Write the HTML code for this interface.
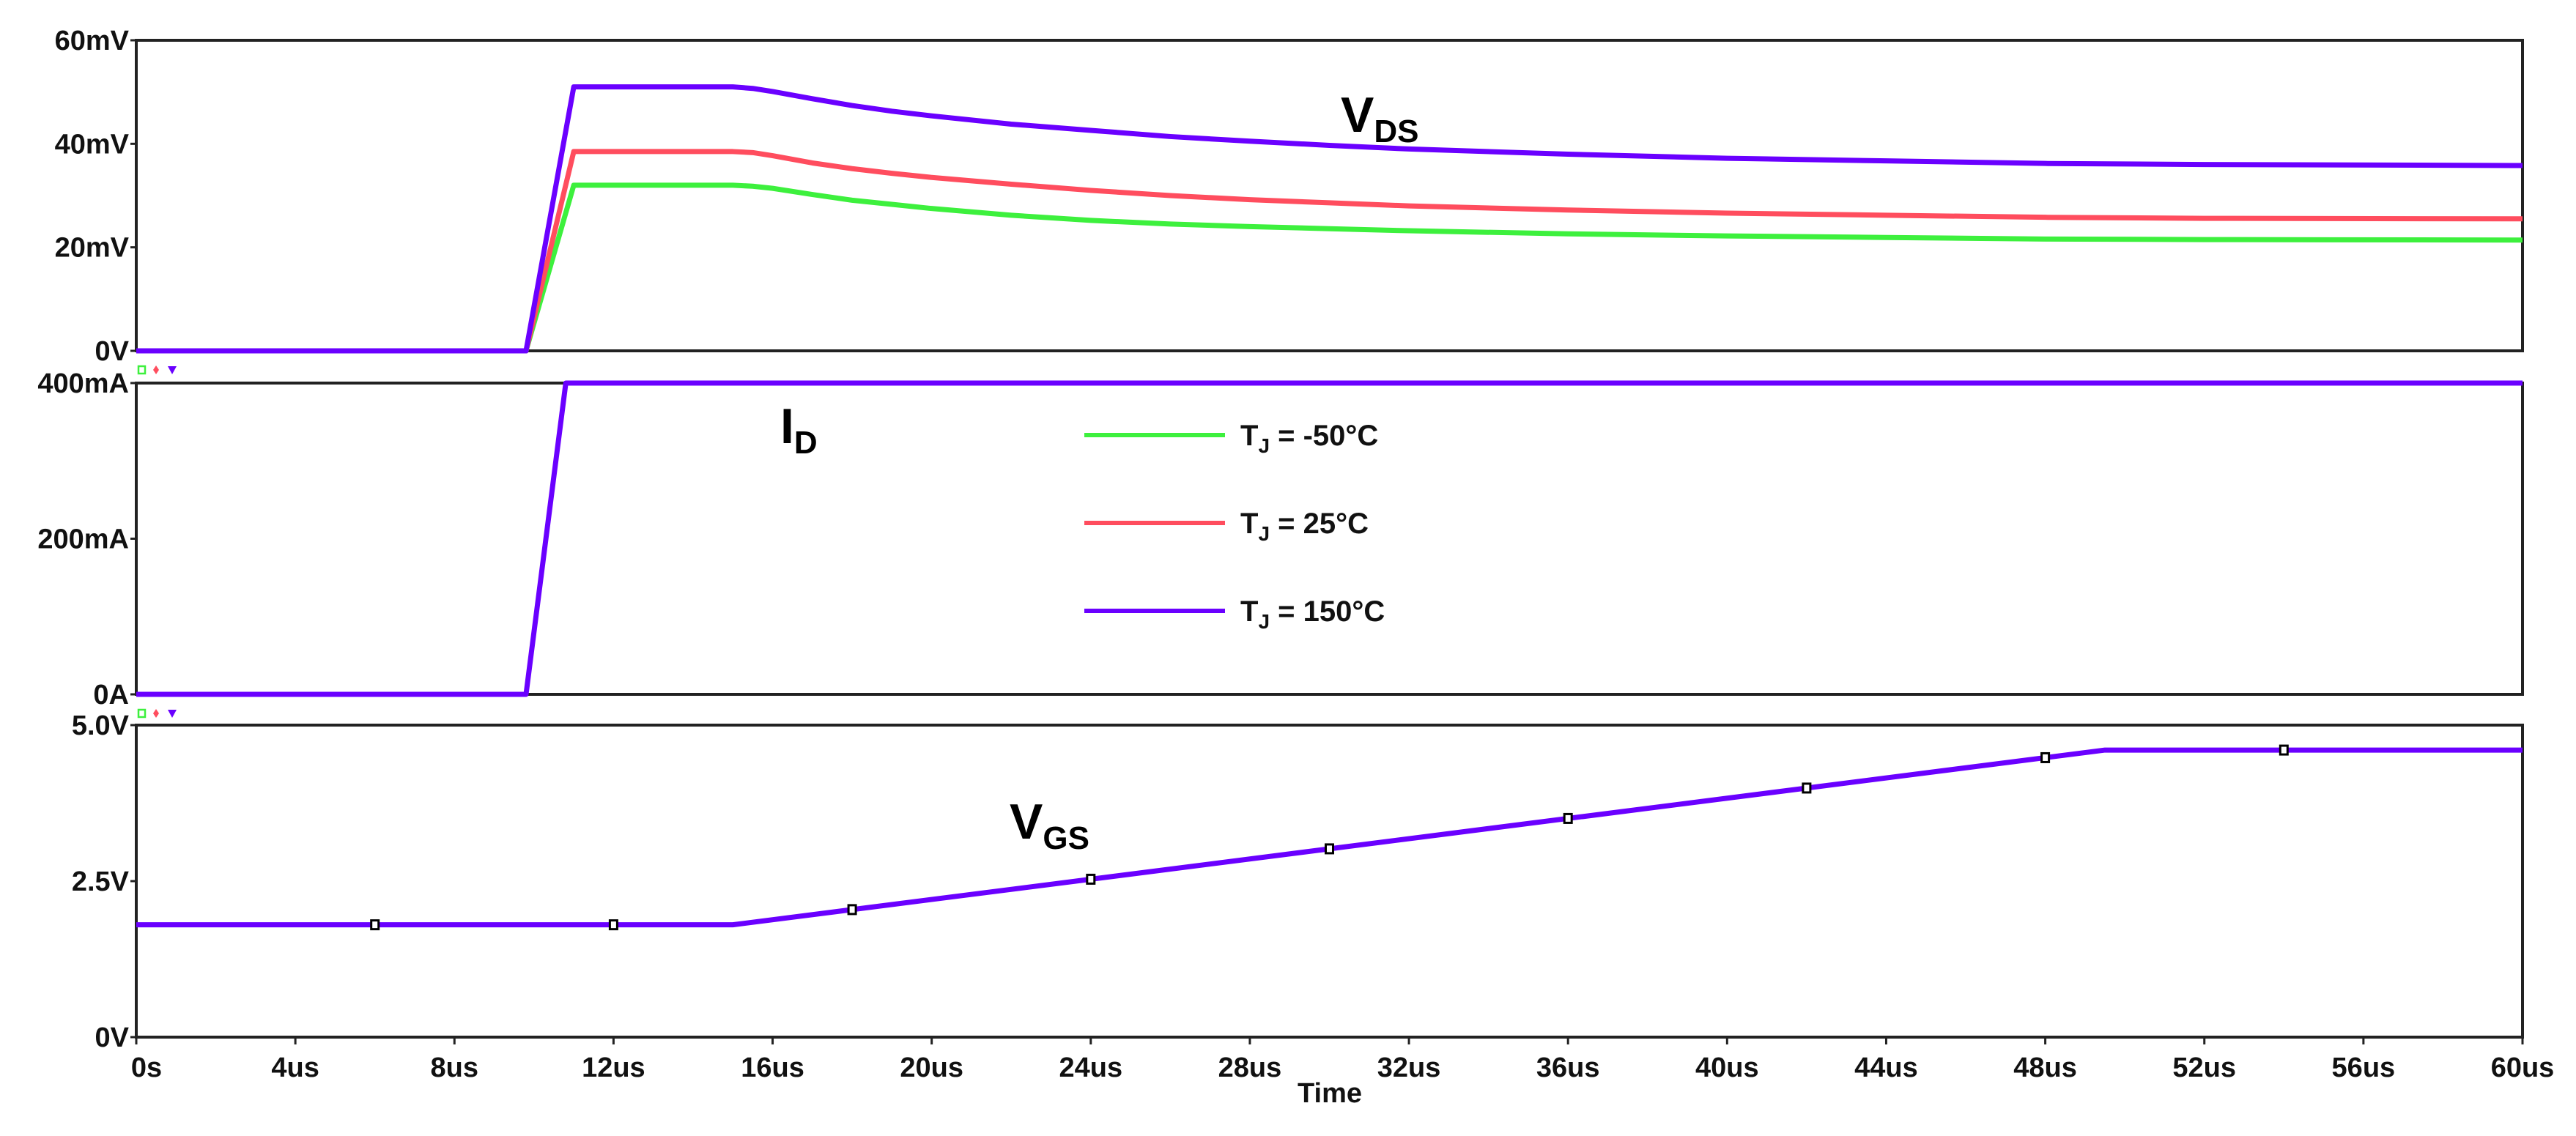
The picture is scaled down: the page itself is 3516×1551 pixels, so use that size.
<!DOCTYPE html>
<html><head><meta charset="utf-8"><style>
html,body{margin:0;padding:0;background:#fff;}
svg{display:block;font-family:"Liberation Sans",Arial,sans-serif;}
.tk{font-size:38px;font-weight:bold;fill:#111;}
</style></head><body>
<svg id="chart" width="3516" height="1551" viewBox="0 0 3516 1551" xmlns="http://www.w3.org/2000/svg">
<g id="frames"></g><g id="series"></g><g id="labels"></g>
</svg>
<script>
// ---- data ----
const timeTicks = [0,4,8,12,16,20,24,28,32,36,40,44,48,52,56,60];
const timeTickLabels = ["0s","4us","8us","12us","16us","20us","24us","28us","32us","36us","40us","44us","48us","52us","56us","60us"];
const vdsTimes = [0,9.8,11,15,15.5,16,17,18,19,20,22,24,26,28,30,32,36,40,44,48,52,60];
const vdsPurple = [0,0,51,51,50.7,50.1,48.7,47.4,46.3,45.4,43.8,42.6,41.4,40.5,39.7,39,38,37.2,36.7,36.2,36,35.8];
const vdsRed = [0,0,38.5,38.5,38.3,37.7,36.3,35.2,34.3,33.5,32.2,31,30,29.2,28.6,28,27.2,26.6,26.2,25.8,25.6,25.5];
const vdsGreen = [0,0,32,32,31.8,31.4,30.2,29.1,28.3,27.5,26.2,25.2,24.5,24,23.6,23.2,22.6,22.2,21.9,21.6,21.5,21.4];
const vdsTicks = [0,20,40,60];
const vdsTickLabels = ["0V","20mV","40mV","60mV"];
const idTimes = [0,9.8,10.8,60];
const idValues = [0,0,400,400];
const idTicks = [0,200,400];
const idTickLabels = ["0A","200mA","400mA"];
const vgsTimes = [0,15,49.5,60];
const vgsValues = [1.8,1.8,4.6,4.6];
const vgsTicks = [0,2.5,5];
const vgsTickLabels = ["0V","2.5V","5.0V"];
const vgsMarkerTimes = [6,12,18,24,30,36,42,48,54];
const legendLabels = ["-50°C","25°C","150°C"];

// ---- layout ----
const NS="http://www.w3.org/2000/svg";
const X0=186,X1=3443;
const panels=[{top:55,bot:479,min:0,max:60},{top:523,bot:948,min:0,max:400},{top:990,bot:1416,min:0,max:5}];
const xs=t=>X0+(t/60)*(X1-X0);
const ys=(p,v)=>p.bot-(v-p.min)/(p.max-p.min)*(p.bot-p.top);
function mk(tag,attrs,parent,text){const e=document.createElementNS(NS,tag);for(const k in attrs)e.setAttribute(k,attrs[k]);if(text!==undefined)e.textContent=text;parent.appendChild(e);return e;}
const F=document.getElementById('frames'),S=document.getElementById('series'),L=document.getElementById('labels');
const purple="#6a00ff",red="#ff4d5e",green="#3df03d";

panels.forEach((p,i)=>{
  const r=mk('rect',{x:X0,y:p.top,width:X1-X0,height:p.bot-p.top,fill:'none',stroke:'#222','stroke-width':4},F);
  
  
  if(i<2){
    const y=p.bot+26;
    const a=mk('rect',{x:189,y:y-5,width:9,height:10,fill:'none',stroke:green,'stroke-width':2.5},F);
    
    const b=mk('path',{d:`M213 ${y-6} L217 ${y} L213 ${y+6} L209 ${y} Z`,fill:red},F);
    
    const c=mk('path',{d:`M229 ${y-5} L241 ${y-5} L235 ${y+6} Z`,fill:purple},F);
    
  }
});
function yTicks(p,ticks,labels,name){
  ticks.forEach((v,i)=>{
    const y=ys(p,v);
    mk('line',{x1:X0-8,x2:X0,y1:y,y2:y,stroke:'#222','stroke-width':3},F);
    const t=mk('text',{x:X0-10,y:y+13,'text-anchor':'end',class:'tk'},L,labels[i]);
    
    
  });
}
yTicks(panels[0],vdsTicks,vdsTickLabels,'vds');
yTicks(panels[1],idTicks,idTickLabels,'id');
yTicks(panels[2],vgsTicks,vgsTickLabels,'vgs');
timeTicks.forEach((t,i)=>{
  const x=xs(t);
  mk('line',{x1:x,x2:x,y1:1416,y2:1426,stroke:'#222','stroke-width':3},F);
  const tx=mk('text',{x:x+(i==0?14:0),y:1470,'text-anchor':'middle',class:'tk'},L,timeTickLabels[i]);
  
  
});
const tt=mk('text',{x:1815,y:1505,'text-anchor':'middle',class:'tk'},L,'Time');


function line(p,times,vals,color,name){
  const pts=times.map((t,i)=>xs(t)+','+ys(p,vals[i])).join(' ');
  const e=mk('polyline',{points:pts,fill:'none',stroke:color,'stroke-width':7,'stroke-linejoin':'round'},S);
  
  
}
line(panels[0],vdsTimes,vdsGreen,green,'vds-line-minus50c');
line(panels[0],vdsTimes,vdsRed,red,'vds-line-25c');
line(panels[0],vdsTimes,vdsPurple,purple,'vds-line-150c');
line(panels[1],idTimes,idValues,purple,'id-line');
line(panels[2],vgsTimes,vgsValues,purple,'vgs-line');
vgsMarkerTimes.forEach(t=>{
  let v=vgsValues[0];
  for(let i=0;i<vgsTimes.length-1;i++){if(t>=vgsTimes[i]&&t<=vgsTimes[i+1]){v=vgsValues[i]+(vgsValues[i+1]-vgsValues[i])*(t-vgsTimes[i])/(vgsTimes[i+1]-vgsTimes[i]);}}
  const m=mk('rect',{x:xs(t)-5,y:ys(panels[2],v)-6,width:10,height:12,fill:'#fff',stroke:'#000','stroke-width':3},S);
  
  
});

function sublabel(x,y,main,sub,name){
  const t=mk('text',{x:x,y:y,'font-size':68,'font-weight':'bold',fill:'#000'},L);
  
  mk('tspan',{},t,main);
  mk('tspan',{'font-size':44,dy:14},t,sub);
}
sublabel(1830,180,'V','DS','vds-label');
sublabel(1065,605,'I','D','id-label');
sublabel(1378,1145,'V','GS','vgs-label');

[green,red,purple].forEach((c,i)=>{
  const y=594+i*120;
  const l=mk('line',{x1:1480,x2:1672,y1:y,y2:y,stroke:c,'stroke-width':6},L);
  
  const t=mk('text',{x:1693,y:y+14,'font-size':40,'font-weight':'bold',fill:'#111'},L);
  
  mk('tspan',{},t,'T');
  mk('tspan',{'font-size':28,dy:10},t,'J');
  mk('tspan',{dy:-10},t,' = '+legendLabels[i]);
});
</script>
</body></html>
